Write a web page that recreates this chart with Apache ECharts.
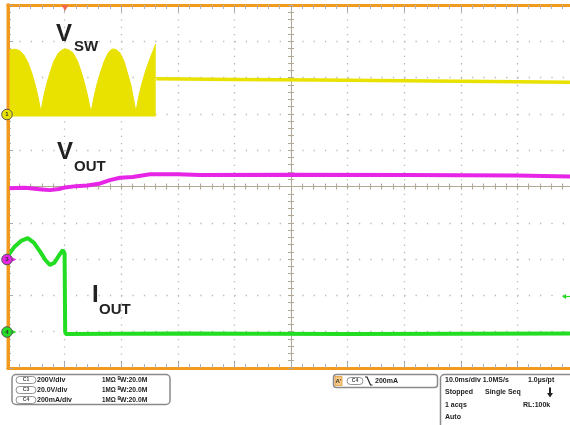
<!DOCTYPE html>
<html><head><meta charset="utf-8">
<script src="https://cdn.jsdelivr.net/npm/echarts@6/dist/echarts.min.js"></script>
<style>html,body{margin:0;padding:0;background:#fff}#c{width:570px;height:425px}</style>
</head><body><div id="c"></div><script>
// time axis: 10.0 ms/div, 10 divisions
const timeRange = [0, 100];
const timeStep = 10;
// vertical: 10 divisions, center = 0
const divRange = [-5, 5];
// channel scales (per div) and ground offsets (div from center)
const c1PerDiv = 200, c1Ground = 2;    // V
const c3PerDiv = 20,  c3Ground = -2;   // V
const c4PerDiv = 200, c4Ground = -4;   // mA

// V_SW (C1) switching burst envelope [ms, V]
const vswBurst = [
 [0,350],[0.6,355],[1.3,356],[2.0,350],[2.8,325],[3.5,285],[4.2,225],[4.8,160],[5.3,95],[5.6,45],[5.8,12],
 [6.0,45],[6.3,95],[6.8,160],[7.4,225],[8.1,290],[8.9,335],[9.6,354],[10.1,358],[10.7,354],[11.5,335],[12.3,290],[13.0,225],[13.6,160],[14.1,95],[14.4,45],[14.7,12],
 [14.9,45],[15.2,95],[15.7,160],[16.3,225],[17.0,290],[17.7,335],[18.2,354],[18.6,358],[19.1,354],[19.8,335],[20.5,290],[21.1,225],[21.7,160],[22.1,95],[22.4,45],[22.6,12],
 [22.8,45],[23.1,95],[23.6,160],[24.2,225],[24.9,290],[25.6,345],[26.1,385]
];
// V_SW after switching stops
const vswAfter = [[26.2,193],[40,190],[55,187],[70,183],[85,179],[100,174]];
// V_OUT (C3) [ms, V]
const voutData = [[0,39.1],[3,39.3],[6,38.4],[7.4,38.0],[9,38.6],[10.1,39.5],[12,40.2],[14,40.6],[16.3,41.7],[18,43.5],[19.8,44.8],[22,45.2],[25.1,46.7],[30,46.8],[33.9,46.3],[50,46.5],[70,46.3],[90,46.0],[100,45.4]];
// I_OUT (C4) [ms, mA]
const ioutData = [[0,420],[1.2,470],[2.3,500],[3.5,515],[4.6,490],[5.7,440],[6.6,395],[7.4,368],[8.2,380],[9.0,420],[9.7,450],[10.0,430],[10.1,0],[10.2,-12],[30,-10],[60,-12],[100,-10]];

const chNames = ['C1','C3','C4'];
const chScales = ['200V/div','20.0V/div','200mA/div'];

const ORANGE = '#f29a1e', GRID = '#b9b9b9', CENTER = '#b0a996';
const YEL = '#e9e100', MAG = '#e625e6', GRN = '#22dd22';

function chAxis(perDiv, ground){
  return {type:'value', show:false, position:'left', min:(divRange[0]-ground)*perDiv, max:(divRange[1]-ground)*perDiv};
}
const noLab = {show:false};
const off = {show:false};

const chart = echarts.init(document.getElementById('c'), null, {renderer:'canvas'});
const graphic = [];
const T = (x,y,text,size,extra)=>Object.assign({type:'text', x, y, style:{text, fill:'#222', font:'bold '+size+'px "Liberation Sans", Arial, sans-serif', textVerticalAlign:'middle'}}, extra||{});

// left frame edge
graphic.push({type:'rect', shape:{x:6.5,y:3.5,width:3,height:366}, style:{fill:ORANGE}});

// signal labels
graphic.push(T(56,34,'V',24), T(74,47,'SW',15));
graphic.push(T(57,152,'V',24), T(74,167,'OUT',15));
graphic.push(T(92,295,'I',24), T(99,310,'OUT',15));

// channel ground markers
function marker(cy, fill, label){
  graphic.push({type:'polygon', shape:{points:[[10,cy-3],[10,cy+3],[16.5,cy]]}, style:{fill}});
  graphic.push({type:'circle', shape:{cx:7,cy,r:5.3}, style:{fill, stroke:'#555', lineWidth:1}});
  graphic.push({type:'text', x:7, y:cy, style:{text:label, fill:'#333', font:'bold 6px "Liberation Sans", sans-serif', textAlign:'center', textVerticalAlign:'middle'}});
}
marker(114.5, YEL, '1');
marker(259.5, MAG, '3');
marker(332, GRN, '4');
// trigger position and level
graphic.push({type:'polygon', shape:{points:[[61.5,5],[68.5,5],[65,11]]}, style:{fill:'#f26a4e'}});
graphic.push({type:'polygon', shape:{points:[[562,296.5],[566,294],[566,299]]}, style:{fill:GRN}});
graphic.push({type:'line', shape:{x1:565,y1:296.5,x2:570,y2:296.5}, style:{stroke:GRN, lineWidth:1.2}});

// bottom panel 1
graphic.push({type:'rect', shape:{x:12,y:374.5,width:158,height:30,r:4}, style:{fill:'#fff', stroke:'#8a8a8a', lineWidth:1.5}});
chNames.forEach((n,i)=>{
  const y = 380 + i*10;
  graphic.push({type:'rect', shape:{x:16,y:y-3.5,width:20,height:7,r:3.5}, style:{fill:'#fff', stroke:'#777', lineWidth:0.8}});
  graphic.push({type:'text', x:26, y, style:{text:n, fill:'#444', font:'bold 5px "Liberation Sans", sans-serif', textAlign:'center', textVerticalAlign:'middle'}});
  graphic.push(T(37,y,chScales[i],7));
  graphic.push(T(102,y,'1MΩ',6.3));
  graphic.push(T(117.5,y-1.5,'B',4.5));
  graphic.push(T(120,y,'W:20.0M',6.8));
});
// panel 2
graphic.push({type:'rect', shape:{x:333.5,y:374.5,width:104,height:13,r:3}, style:{fill:'#fff', stroke:'#8a8a8a', lineWidth:1.5}});
graphic.push({type:'rect', shape:{x:335,y:376.5,width:7,height:9}, style:{fill:'#f7c982', stroke:'#e39a3a', lineWidth:0.8}});
graphic.push({type:'text', x:338.5, y:381, style:{text:"A'", fill:'#333', font:'bold 6px "Liberation Sans", sans-serif', textAlign:'center', textVerticalAlign:'middle'}});
graphic.push({type:'rect', shape:{x:347,y:377.5,width:16,height:7,r:3.5}, style:{fill:'#fff', stroke:'#777', lineWidth:0.8}});
graphic.push({type:'text', x:355, y:381, style:{text:'C4', fill:'#444', font:'bold 5px "Liberation Sans", sans-serif', textAlign:'center', textVerticalAlign:'middle'}});
graphic.push({type:'polyline', shape:{points:[[365,377],[367,377],[370.5,385],[372.5,385]]}, style:{stroke:'#222', lineWidth:1.2, fill:null}});
graphic.push(T(375,381,'200mA',7));
// panel 3
graphic.push({type:'rect', shape:{x:440.5,y:374.5,width:140,height:60,r:4}, style:{fill:'#fff', stroke:'#8a8a8a', lineWidth:1.5}});
graphic.push(T(445,380.5,'10.0ms/div 1.0MS/s',7), T(528,380.5,'1.0µs/pt',7));
graphic.push(T(445,392.5,'Stopped',7), T(485,392.5,'Single Seq',7));
graphic.push(T(445,405,'1 acqs',7), T(523,405,'RL:100k',7));
graphic.push(T(445,417,'Auto',7));
graphic.push({type:'rect', shape:{x:549,y:387.5,width:2,height:6}, style:{fill:'#222'}});
graphic.push({type:'polygon', shape:{points:[[547,393],[553,393],[550,397.5]]}, style:{fill:'#222'}});
graphic.forEach(g=>{ g.z = 100; });

const borderX = (pos)=>({type:'value', min:timeRange[0], max:timeRange[1], interval:timeStep, position:pos,
  axisLine:{show:true, onZero:false, lineStyle:{color:ORANGE, width:3}},
  axisTick:{show:true, inside:true, length:7, lineStyle:{color:'#a8a8a8'}},
  minorTick:{show:true, splitNumber:5, length:4, lineStyle:{color:'#b0b0b0'}},
  axisLabel:noLab,
  splitLine: pos==='bottom' ? {show:true, lineStyle:{color:GRID, width:1.3, type:[1.3,5.96]}} : off
});
const centerX = (inside)=>({type:'value', min:timeRange[0], max:timeRange[1], interval:timeStep, position:'bottom', offset:-181.5,
  axisLine:{show:inside, onZero:false, lineStyle:{color:CENTER, width:1}},
  axisTick:{show:true, inside, length:3, lineStyle:{color:CENTER}},
  minorTick:{show:true, splitNumber:5, length:3, lineStyle:{color:CENTER}},
  axisLabel:noLab, splitLine:off});
const centerY = (inside)=>({type:'value', min:divRange[0], max:divRange[1], interval:1, position:'left', offset:-283,
  axisLine:{show:inside, onZero:false, lineStyle:{color:CENTER, width:1}},
  axisTick:{show:true, inside, length:3, lineStyle:{color:CENTER}},
  minorTick:{show:true, splitNumber:5, length:3, lineStyle:{color:CENTER}},
  axisLabel:noLab, splitLine:off});

const option = {
  animation:false,
  backgroundColor:'#fff',
  grid:{left:8, top:5, right:-4, bottom:57, containLabel:false, outerBoundsMode:'none'},
  xAxis:[ borderX('bottom'), borderX('top'), centerX(true), centerX(false) ],
  yAxis:[
    {type:'value', min:divRange[0], max:divRange[1], interval:1, position:'left',
     axisLine:{show:true, onZero:false, lineStyle:{color:ORANGE, width:3}},
     axisTick:{show:true, inside:true, length:5, lineStyle:{color:'#a8a8a8'}},
     minorTick:{show:true, splitNumber:5, length:3, lineStyle:{color:'#b0b0b0'}},
     axisLabel:noLab,
     splitLine:{show:true, lineStyle:{color:GRID, width:1.3, type:[1.3,10.02]}}},
    centerY(true), centerY(false),
    chAxis(c1PerDiv,c1Ground), chAxis(c3PerDiv,c3Ground), chAxis(c4PerDiv,c4Ground)
  ],
  series:[
    {type:'line', xAxisIndex:0, yAxisIndex:3, data:vswBurst, showSymbol:false, symbol:'none', silent:true,
     lineStyle:{color:YEL, width:1}, areaStyle:{color:YEL, opacity:1, origin:-15}},
    {type:'line', xAxisIndex:0, yAxisIndex:3, data:vswAfter, showSymbol:false, symbol:'none', lineStyle:{color:YEL, width:3.5}},
    {type:'line', xAxisIndex:0, yAxisIndex:4, data:voutData, showSymbol:false, symbol:'none', lineStyle:{color:MAG, width:4}},
    {type:'line', xAxisIndex:0, yAxisIndex:5, data:ioutData, showSymbol:false, symbol:'none', lineStyle:{color:GRN, width:4}}
  ],
  graphic
};
chart.setOption(option);
</script></body></html>
